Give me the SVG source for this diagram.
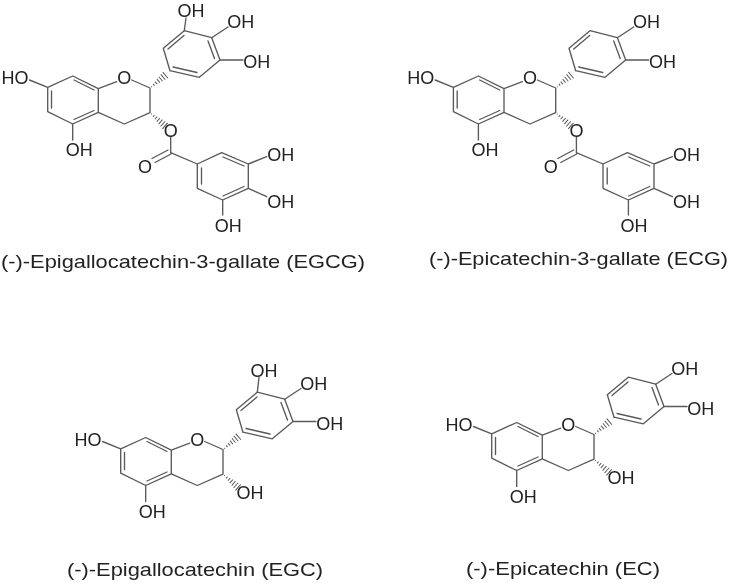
<svg xmlns="http://www.w3.org/2000/svg" xmlns:xlink="http://www.w3.org/1999/xlink" width="733" height="583" viewBox="0 0 733 583">
<style>
.b{fill:none;stroke:#5a5a5a;stroke-width:1.35;stroke-linecap:round;stroke-linejoin:round}
.h{fill:none;stroke:#5a5a5a;stroke-width:1}
text{font-family:"Liberation Sans",Arial,sans-serif;fill:#222}
.a{font-size:18px;text-anchor:middle}
.n{font-size:19px}
</style>
<defs>
<filter id="soft" x="-5%" y="-5%" width="110%" height="110%"><feGaussianBlur stdDeviation="0.35"/></filter>
<g id="hash" class="h">
<path d="M2 -.5V.5M5 -1.1V1.1M8 -1.7V1.7M11 -2.3V2.3M14 -2.9V2.9M17 -3.5V3.5M20 -4V4"/>
</g>
<g id="core">
<path class="b" d="M29.5 80L47.7 87.3L72.7 76L98.3 88.7V112.3L72.7 124L47.7 111.7V87.3M72.7 124V140M98.3 88.7L116.7 81.7M131.7 80L150 88V112.7L124.3 124L98.3 112.3M51.5 91V108M74 80L94 90M74 119.5L94 110.5"/>
<use href="#hash" transform="translate(150 88) rotate(-40)"/>
</g>
<path id="ringB" class="b" d="M170 70.7L163.3 48.3L184.3 30.7L211.7 37.7L220 60L199.3 77.3L170 70.7M168 49L184 35.5M208 41L214.5 58.5M173 67L197 72.5"/>
<g id="ester">
<use href="#hash" transform="translate(150 112.7) rotate(41)"/>
<path class="b" d="M170.7 137V152.7L197.3 164L221.7 152.7L248.3 164V188.3L222.7 200L197.3 188.3V164M201.5 168V184M223 157L244 166M244 186.5L223 196M168 150L152 158.5M171 154L155 162.5M248.3 164L266.7 156.7M248.3 188.3L266.7 196.7M222.7 200V215"/>
</g>
</defs>
<rect width="733" height="583" fill="#fff"/>
<g filter="url(#soft)">
<g id="EGCG">
<use href="#core"/><use href="#ringB"/><use href="#ester"/>
<path class="b" d="M184.3 30.7L186 18M211.7 37.7L228 27M220 60L243 60"/>
<text class="a" x="15" y="84">HO</text><text class="a" x="124.3" y="84">O</text><text class="a" x="79.3" y="156">OH</text>
<text class="a" x="191" y="16.5">OH</text><text class="a" x="240.7" y="28">OH</text><text class="a" x="256.7" y="68">OH</text>
<text class="a" x="170.7" y="137">O</text><text class="a" x="145" y="173">O</text>
<text class="a" x="280.7" y="161">OH</text><text class="a" x="280.7" y="208">OH</text><text class="a" x="228.3" y="232">OH</text>
</g>
<g id="ECG" transform="translate(405.7 0)">
<use href="#core"/><use href="#ringB"/><use href="#ester"/>
<path class="b" d="M211.7 37.7L228 27M220 60L243 60"/>
<text class="a" x="15" y="84">HO</text><text class="a" x="124.3" y="84">O</text><text class="a" x="79.3" y="156">OH</text>
<text class="a" x="240.7" y="28">OH</text><text class="a" x="256.7" y="68">OH</text>
<text class="a" x="170.7" y="137">O</text><text class="a" x="145" y="173">O</text>
<text class="a" x="280.7" y="161">OH</text><text class="a" x="280.7" y="208">OH</text><text class="a" x="228.3" y="232">OH</text>
</g>
<g id="EGC" transform="translate(73 361.5)">
<use href="#core"/><use href="#ringB"/>
<use href="#hash" transform="translate(150 112.7) rotate(41)"/>
<path class="b" d="M184.3 30.7L186 16M211.7 37.7L228 27M220 60L243 60"/>
<text class="a" x="15" y="84">HO</text><text class="a" x="124.3" y="84">O</text><text class="a" x="79.3" y="156">OH</text>
<text class="a" x="191" y="15">OH</text><text class="a" x="240.7" y="28">OH</text><text class="a" x="256.7" y="68">OH</text>
<text class="a" x="177" y="137">OH</text>
</g>
<g id="EC" transform="translate(444 346.5)">
<use href="#core"/><use href="#ringB"/>
<use href="#hash" transform="translate(150 112.7) rotate(41)"/>
<path class="b" d="M211.7 37.7L228 27M220 60L243 60"/>
<text class="a" x="15" y="84">HO</text><text class="a" x="124.3" y="84">O</text><text class="a" x="79.3" y="156">OH</text>
<text class="a" x="240.7" y="28">OH</text><text class="a" x="256.7" y="68">OH</text>
<text class="a" x="177" y="137">OH</text>
</g>
<g id="labels">
<text class="n" x="1" y="268" textLength="364" lengthAdjust="spacingAndGlyphs">(-)-Epigallocatechin-3-gallate (EGCG)</text>
<text class="n" x="429" y="265" textLength="299" lengthAdjust="spacingAndGlyphs">(-)-Epicatechin-3-gallate (ECG)</text>
<text class="n" x="67" y="576" textLength="256" lengthAdjust="spacingAndGlyphs">(-)-Epigallocatechin (EGC)</text>
<text class="n" x="466" y="575" textLength="194" lengthAdjust="spacingAndGlyphs">(-)-Epicatechin (EC)</text>
</g>
</g>
</svg>
